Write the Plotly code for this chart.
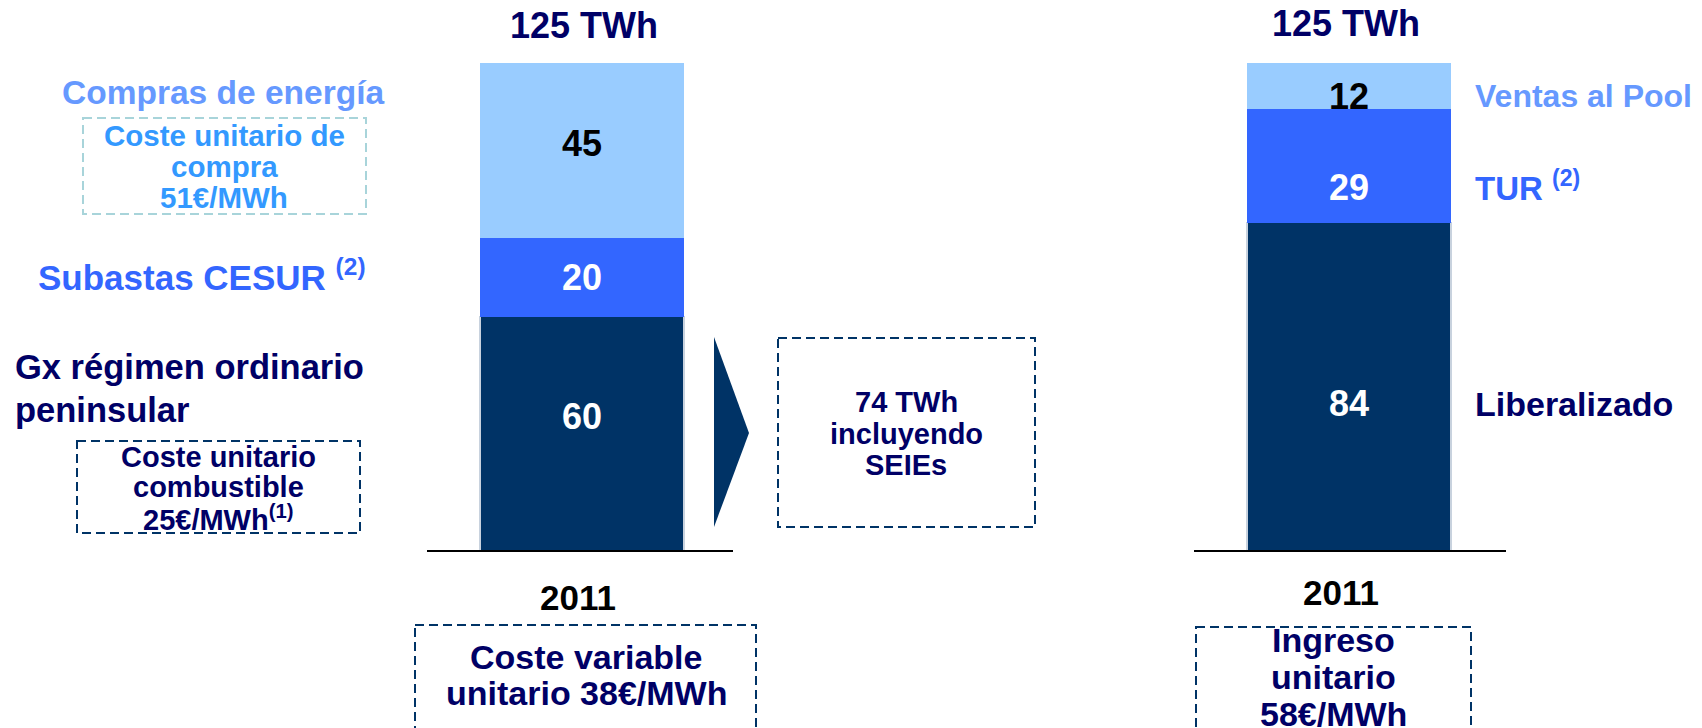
import plotly.graph_objects as go

# ---------------- data ----------------
categories = ["Coste", "Ingreso"]
x_pos = [0, 1]
bottom_vals = [60, 84]   # Gx régimen ordinario / Liberalizado
mid_vals = [20, 29]      # Subastas CESUR / TUR
top_vals = [45, 12]      # Compras de energía / Ventas al Pool
totals = ["125 TWh", "125 TWh"]
years = ["2011", "2011"]

left_labels = ["Compras de energía", "Subastas CESUR <sup>(2)</sup>"]
gx_lines = ["Gx régimen ordinario", "peninsular"]
compra_box = ["Coste unitario de", "compra", "51€/MWh"]
comb_box = ["Coste unitario", "combustible", "25€/MWh<sup>(1)</sup>"]
seies_box = ["74 TWh", "incluyendo", "SEIEs"]
cost_box = ["Coste variable", "unitario 38€/MWh"]
ingreso_box = ["Ingreso", "unitario", "58€/MWh"]
right_labels = ["Ventas al Pool", "TUR <sup>(2)</sup>", "Liberalizado"]

# ---------------- style ----------------
W, H = 1702, 728
FONT = "Liberation Sans, Arial, sans-serif"
C_LIGHT = "#99CCFF"
C_MID = "#3366FF"
C_DARK = "#003366"
NAVY = "#000066"
C_COMPRAS = "#6699FF"
C_COMPRA_BOX = "#3399FF"
C_BOX_LIGHT = "#A8D4DA"

# relative vertical placement of the value label inside each segment (layout only)
LABEL_FRAC = {"bottom": [0.575, 0.45], "mid": [0.5, 0.31], "top": [0.54, 0.28]}


def X(px):
    return px / W


def Y(py):
    return 1 - py / H


fig = go.Figure()
bar_w = 204 / 767
fig.add_trace(go.Bar(x=x_pos, y=bottom_vals, width=bar_w,
                     marker=dict(color=C_DARK, line=dict(color="#C8D2DE", width=1.5))))
fig.add_trace(go.Bar(x=x_pos, y=mid_vals, width=bar_w, marker=dict(color=C_MID, line=dict(width=0))))
fig.add_trace(go.Bar(x=x_pos, y=top_vals, width=bar_w, marker=dict(color=C_LIGHT, line=dict(width=0))))

ann = []

# value labels inside the segments, positioned in data coordinates
for i, xp in enumerate(x_pos):
    segs = [("bottom", 0, bottom_vals[i], "white"),
            ("mid", bottom_vals[i], mid_vals[i], "white"),
            ("top", bottom_vals[i] + mid_vals[i], top_vals[i], "black")]
    for key, base, val, col in segs:
        ann.append(dict(text=f"<b>{val}</b>", x=xp, y=base + val * LABEL_FRAC[key][i], xref="x", yref="y",
                        xanchor="center", yanchor="middle", showarrow=False,
                        font=dict(family=FONT, size=36, color=col)))


def add_text(text, x, y, size, color, xanchor="center", align="center"):
    ann.append(dict(text="<b>" + text + "</b>", x=X(x), y=Y(y), xref="paper", yref="paper",
                    xanchor=xanchor, yanchor="middle", align=align, showarrow=False,
                    font=dict(family=FONT, size=size, color=color)))


def add_lines(lines, x, y0, spacing, size, color, xanchor="center"):
    for i, t in enumerate(lines):
        add_text(t, x, y0 + i * spacing, size, color, xanchor=xanchor, align="left" if xanchor == "left" else "center")


shapes = []


def dashed_box(x0, y0, x1, y1, color):
    shapes.append(dict(type="rect", xref="paper", yref="paper", x0=X(x0), x1=X(x1), y0=Y(y0), y1=Y(y1),
                       line=dict(color=color, width=2, dash="9px,5px"), fillcolor="rgba(0,0,0,0)", layer="above"))


# totals and years
add_text(totals[0], 584, 26, 36, NAVY)
add_text(totals[1], 1346, 24, 36, NAVY)
add_text(years[0], 578, 597, 35, "black")
add_text(years[1], 1341, 592, 35, "black")

# left labels
add_text(left_labels[0], 386, 92, 33.5, C_COMPRAS, xanchor="right")
add_text(left_labels[1], 368, 275, 35, C_MID, xanchor="right")
add_lines(gx_lines, 13, 367, 43, 34.5, NAVY, xanchor="left")

dashed_box(83, 118, 366, 214, C_BOX_LIGHT)
add_lines(compra_box, 224, 135, 31.5, 29.5, C_COMPRA_BOX)

dashed_box(77, 441, 360, 533, C_DARK)
add_lines(comb_box, 218, 457, 30.5, 29, NAVY)

# arrow + SEIEs box
shapes.append(dict(type="path", xref="paper", yref="paper",
                   path=f"M {X(714)},{Y(337)} L {X(749)},{Y(433)} L {X(714)},{Y(527)} Z",
                   fillcolor=C_DARK, line=dict(width=0)))
dashed_box(778, 338, 1035, 527, C_DARK)
add_lines(seies_box, 906, 402, 31.5, 29, NAVY)

# baselines
for a, b in [(427, 733), (1194, 1506)]:
    shapes.append(dict(type="line", xref="paper", yref="paper", x0=X(a), x1=X(b), y0=Y(551), y1=Y(551),
                       line=dict(color="black", width=2)))

# bottom boxes
dashed_box(415, 625, 756, 745, C_DARK)
add_lines(cost_box, 586, 657, 36, 34, NAVY)
dashed_box(1196, 627, 1471, 745, C_DARK)
add_lines(ingreso_box, 1333, 640, 37, 34, NAVY)

# right labels
add_text(right_labels[0], 1473, 96, 32, C_COMPRAS, xanchor="left")
add_text(right_labels[1], 1473, 186, 33, C_MID, xanchor="left")
add_text(right_labels[2], 1473, 404, 34, NAVY, xanchor="left")

fig.update_layout(
    width=W, height=H, autosize=False,
    margin=dict(l=0, r=0, t=0, b=0, pad=0),
    paper_bgcolor="white", plot_bgcolor="white",
    barmode="stack", showlegend=False, hovermode=False,
    xaxis=dict(range=[-582 / 767, (W - 582) / 767], domain=[0, 1], visible=False, fixedrange=True),
    yaxis=dict(range=[0, 125], domain=[(H - 551) / H, (H - 62.5) / H], visible=False, fixedrange=True),
    annotations=ann, shapes=shapes,
)

fig.write_html("out.html", config={"displayModeBar": False},
               post_script="document.body.style.margin='0';document.body.style.overflow='hidden';")
